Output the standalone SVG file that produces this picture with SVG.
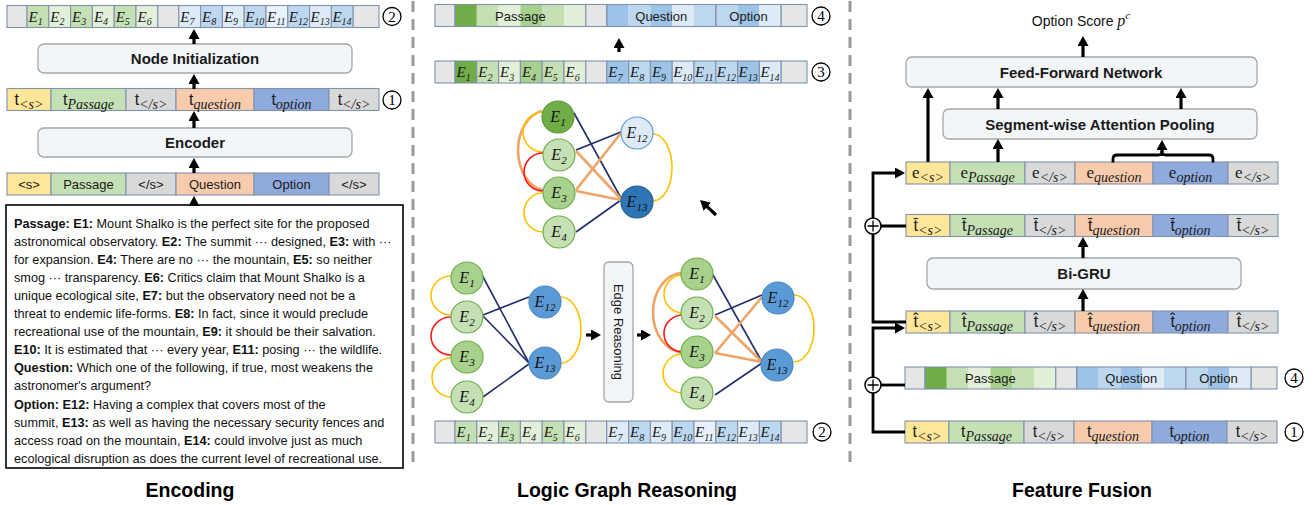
<svg xmlns="http://www.w3.org/2000/svg" width="1316" height="505" viewBox="0 0 1316 505">
<style>
.cell{stroke:#8093ab;stroke-width:1.1}
.box{fill:#f3f6f9;stroke:#a6a6a6;stroke-width:1.3}
.bt{font-family:"Liberation Sans",Arial,sans-serif;font-weight:bold;font-size:15px;fill:#1a1a1a;text-anchor:middle}
.lbl{font-family:"Liberation Sans",Arial,sans-serif;font-size:13px;fill:#1a1a1a;text-anchor:middle}
.el{font-family:"Liberation Serif","Times New Roman",serif;font-style:italic;font-size:15px;fill:#1a1a1a}
.sub{font-size:10px}
.tk{font-family:"Liberation Sans",Arial,sans-serif;font-size:16px;fill:#1a1a1a;text-anchor:middle}
.tke{font-family:"Liberation Serif","Times New Roman",serif;font-size:17px;fill:#1a1a1a;text-anchor:middle}
.ts{font-family:"Liberation Serif","Times New Roman",serif;font-style:italic;font-size:14px}
.nl{font-family:"Liberation Serif","Times New Roman",serif;font-style:italic;font-size:16px;fill:#111;text-anchor:middle}
.nls{font-size:11px}
.para{font-family:"Liberation Sans",Arial,sans-serif;font-size:12.7px;fill:#111}
.b{font-weight:bold}
.title{font-family:"Liberation Sans",Arial,sans-serif;font-weight:bold;font-size:19.5px;fill:#000;text-anchor:middle}
.arr{stroke:#000;stroke-width:3.2;fill:none;marker-end:url(#ah)}
.conn{stroke:#000;stroke-width:2.8;fill:none}
.navy{stroke:#1f2d6b;stroke-width:1.6;fill:none}
.org{stroke:#f0a366;stroke-width:2.6;fill:none}
.yel{stroke:#ffc000;stroke-width:1.6;fill:none}
.red{stroke:#ff1a1a;stroke-width:1.6;fill:none}
.gdk{fill:#70ad47;stroke:#5a9a36;stroke-width:1.2}
.gmd{fill:#a9d18e;stroke:#70ad47;stroke-width:1.2}
.glt{fill:#c5e0b4;stroke:#70ad47;stroke-width:1.2}
.bmd{fill:#5b9bd5;stroke:#4a88c4;stroke-width:1.2}
.num{fill:#fff;stroke:#000;stroke-width:1.3}
.numt{font-family:"Liberation Serif","Times New Roman",serif;font-size:15px;fill:#000;text-anchor:middle}
.sep{stroke:#9a9a9a;stroke-width:3;stroke-dasharray:11 7}
</style>
<defs>
  <marker id="ah" viewBox="0 0 10 11" refX="1" refY="5.5" markerWidth="10" markerHeight="11" markerUnits="userSpaceOnUse" orient="auto">
    <path d="M0,0 L10,5.5 L0,11 z" fill="#000"/>
  </marker>
  <!-- labels E1..E14 inside the entity rows -->
  <g id="elab">
    <text class="el" x="21.5" y="16">E<tspan class="sub" dy="3.5">1</tspan></text>
    <text class="el" x="43.3" y="16">E<tspan class="sub" dy="3.5">2</tspan></text>
    <text class="el" x="65.1" y="16">E<tspan class="sub" dy="3.5">3</tspan></text>
    <text class="el" x="86.9" y="16">E<tspan class="sub" dy="3.5">4</tspan></text>
    <text class="el" x="108.7" y="16">E<tspan class="sub" dy="3.5">5</tspan></text>
    <text class="el" x="130.5" y="16">E<tspan class="sub" dy="3.5">6</tspan></text>
    <text class="el" x="173.3" y="16">E<tspan class="sub" dy="3.5">7</tspan></text>
    <text class="el" x="195.1" y="16">E<tspan class="sub" dy="3.5">8</tspan></text>
    <text class="el" x="216.9" y="16">E<tspan class="sub" dy="3.5">9</tspan></text>
    <text class="el" x="238.2" y="16">E<tspan class="sub" dy="3.5">10</tspan></text>
    <text class="el" x="260" y="16">E<tspan class="sub" dy="3.5">11</tspan></text>
    <text class="el" x="281.8" y="16">E<tspan class="sub" dy="3.5">12</tspan></text>
    <text class="el" x="303.6" y="16">E<tspan class="sub" dy="3.5">13</tspan></text>
    <text class="el" x="325.4" y="16">E<tspan class="sub" dy="3.5">14</tspan></text>
  </g>
  <!-- entity row, initial node features -->
  <g id="rowA">
    <rect class="cell" x="0" y="0" width="20" height="22" fill="#e6e6e6"/>
    <rect class="cell" x="20" y="0" width="21.8" height="22" fill="#c5e0b4"/>
    <rect class="cell" x="41.8" y="0" width="21.8" height="22" fill="#e2f0d9"/>
    <rect class="cell" x="63.6" y="0" width="21.8" height="22" fill="#c5e0b4"/>
    <rect class="cell" x="85.4" y="0" width="21.8" height="22" fill="#e2f0d9"/>
    <rect class="cell" x="107.2" y="0" width="21.8" height="22" fill="#c5e0b4"/>
    <rect class="cell" x="129" y="0" width="21.8" height="22" fill="#e2f0d9"/>
    <rect class="cell" x="150.8" y="0" width="21" height="22" fill="#e6e6e6"/>
    <rect class="cell" x="171.8" y="0" width="21.8" height="22" fill="#deebf7"/>
    <rect class="cell" x="193.6" y="0" width="21.8" height="22" fill="#bdd7ee"/>
    <rect class="cell" x="215.4" y="0" width="21.8" height="22" fill="#deebf7"/>
    <rect class="cell" x="237.2" y="0" width="21.8" height="22" fill="#bdd7ee"/>
    <rect class="cell" x="259" y="0" width="21.8" height="22" fill="#e9f1fa"/>
    <rect class="cell" x="280.8" y="0" width="21.8" height="22" fill="#bdd7ee"/>
    <rect class="cell" x="302.6" y="0" width="21.8" height="22" fill="#deebf7"/>
    <rect class="cell" x="324.4" y="0" width="21.8" height="22" fill="#bdd7ee"/>
    <rect class="cell" x="346.2" y="0" width="25.8" height="22" fill="#e6e6e6"/>
    <use href="#elab"/>
  </g>
  <!-- entity row, after graph reasoning -->
  <g id="rowB">
    <rect class="cell" x="0" y="0" width="20" height="22" fill="#e6e6e6"/>
    <rect class="cell" x="20" y="0" width="21.8" height="22" fill="#70ad47"/>
    <rect class="cell" x="41.8" y="0" width="21.8" height="22" fill="#c5e0b4"/>
    <rect class="cell" x="63.6" y="0" width="21.8" height="22" fill="#e2f0d9"/>
    <rect class="cell" x="85.4" y="0" width="21.8" height="22" fill="#a9d18e"/>
    <rect class="cell" x="107.2" y="0" width="21.8" height="22" fill="#c5e0b4"/>
    <rect class="cell" x="129" y="0" width="21.8" height="22" fill="#e2f0d9"/>
    <rect class="cell" x="150.8" y="0" width="21" height="22" fill="#e6e6e6"/>
    <rect class="cell" x="171.8" y="0" width="21.8" height="22" fill="#9dc3e6"/>
    <rect class="cell" x="193.6" y="0" width="21.8" height="22" fill="#bdd7ee"/>
    <rect class="cell" x="215.4" y="0" width="21.8" height="22" fill="#9dc3e6"/>
    <rect class="cell" x="237.2" y="0" width="21.8" height="22" fill="#deebf7"/>
    <rect class="cell" x="259" y="0" width="21.8" height="22" fill="#bdd7ee"/>
    <rect class="cell" x="280.8" y="0" width="21.8" height="22" fill="#bdd7ee"/>
    <rect class="cell" x="302.6" y="0" width="21.8" height="22" fill="#9dc3e6"/>
    <rect class="cell" x="324.4" y="0" width="21.8" height="22" fill="#deebf7"/>
    <rect class="cell" x="346.2" y="0" width="25.8" height="22" fill="#e6e6e6"/>
    <use href="#elab"/>
  </g>
  <!-- segment row: passage / question / option built from entity features -->
  <g id="seg">
    <rect x="20" y="0" width="21.8" height="22" fill="#70ad47"/>
    <rect x="41.8" y="0" width="21.8" height="22" fill="#c5e0b4"/>
    <rect x="63.6" y="0" width="21.8" height="22" fill="#e2f0d9"/>
    <rect x="85.4" y="0" width="21.8" height="22" fill="#a9d18e"/>
    <rect x="107.2" y="0" width="21.8" height="22" fill="#c5e0b4"/>
    <rect x="129" y="0" width="21.8" height="22" fill="#e2f0d9"/>
    <rect x="171.8" y="0" width="21.8" height="22" fill="#9dc3e6"/>
    <rect x="193.6" y="0" width="21.8" height="22" fill="#bdd7ee"/>
    <rect x="215.4" y="0" width="21.8" height="22" fill="#9dc3e6"/>
    <rect x="237.2" y="0" width="21.8" height="22" fill="#deebf7"/>
    <rect x="259" y="0" width="21.8" height="22" fill="#bdd7ee"/>
    <rect x="280.8" y="0" width="21.8" height="22" fill="#bdd7ee"/>
    <rect x="302.6" y="0" width="21.8" height="22" fill="#9dc3e6"/>
    <rect x="324.4" y="0" width="21.8" height="22" fill="#deebf7"/>
    <rect class="cell" x="0" y="0" width="20" height="22" fill="#e6e6e6"/>
    <rect class="cell" x="20" y="0" width="130.8" height="22" fill="none"/>
    <rect class="cell" x="150.8" y="0" width="21" height="22" fill="#e6e6e6"/>
    <rect class="cell" x="171.8" y="0" width="109" height="22" fill="none"/>
    <rect class="cell" x="280.8" y="0" width="65.4" height="22" fill="none"/>
    <rect class="cell" x="346.2" y="0" width="25.8" height="22" fill="#e6e6e6"/>
    <text class="lbl" x="85.4" y="16">Passage</text>
    <text class="lbl" x="226.3" y="16">Question</text>
    <text class="lbl" x="313.5" y="16">Option</text>
  </g>
  <!-- six-part token row background -->
  <g id="cells6">
    <rect class="cell" x="0" y="0" width="44" height="22" fill="#ffe699"/>
    <rect class="cell" x="44" y="0" width="75" height="22" fill="#c5e0b4"/>
    <rect class="cell" x="119" y="0" width="50" height="22" fill="#d9d9d9"/>
    <rect class="cell" x="169" y="0" width="78" height="22" fill="#f8cbad"/>
    <rect class="cell" x="247" y="0" width="75" height="22" fill="#8faadc"/>
    <rect class="cell" x="322" y="0" width="50" height="22" fill="#d9d9d9"/>
  </g>
  <!-- token feature row t -->
  <g id="trow">
    <use href="#cells6"/>
    <text class="tk" x="22" y="16">t<tspan class="ts" dy="4">&lt;s&gt;</tspan></text>
    <text class="tk" x="81.5" y="16">t<tspan class="ts" dy="4">Passage</tspan></text>
    <text class="tk" x="144" y="16">t<tspan class="ts" dy="4">&lt;/s&gt;</tspan></text>
    <text class="tk" x="208" y="16">t<tspan class="ts" dy="4">question</tspan></text>
    <text class="tk" x="284.5" y="16">t<tspan class="ts" dy="4">option</tspan></text>
    <text class="tk" x="347" y="16">t<tspan class="ts" dy="4">&lt;/s&gt;</tspan></text>
  </g>
</defs>

<rect width="1316" height="505" fill="#fff"/>

<!-- panel separators -->
<line class="sep" x1="413" y1="1" x2="413" y2="462"/>
<line class="sep" x1="850" y1="1" x2="850" y2="462"/>

<!-- ================= Encoding ================= -->
<g id="enc-entity-row" transform="translate(7,5.5)"><use href="#rowA"/></g>
<g id="enc-node-init">
  <rect class="box" x="38" y="44" width="314" height="29" rx="6"/>
  <text class="bt" x="195" y="64">Node Initialization</text>
</g>
<g id="enc-token-row" transform="translate(7,88.5)"><use href="#trow"/></g>
<g id="enc-encoder">
  <rect class="box" x="38" y="128" width="314" height="29" rx="6"/>
  <text class="bt" x="195" y="148">Encoder</text>
</g>
<g id="enc-input-row" transform="translate(7,173)">
  <use href="#cells6"/>
  <text class="lbl" x="22" y="16">&lt;s&gt;</text>
  <text class="lbl" x="81.5" y="16">Passage</text>
  <text class="lbl" x="144" y="16">&lt;/s&gt;</text>
  <text class="lbl" x="208" y="16">Question</text>
  <text class="lbl" x="284.5" y="16">Option</text>
  <text class="lbl" x="347" y="16">&lt;/s&gt;</text>
</g>
<g id="enc-text">
  <rect x="6" y="205" width="397" height="263" fill="#fff" stroke="#000" stroke-width="1.6"/>
  <text class="para" x="14" y="227.5"><tspan class="b">Passage: E1:</tspan> Mount Shalko is the perfect site for the proposed</text>
  <text class="para" x="14" y="245.6">astronomical observatory. <tspan class="b">E2:</tspan> The summit ··· designed, <tspan class="b">E3:</tspan> with ···</text>
  <text class="para" x="14" y="263.7">for expansion. <tspan class="b">E4:</tspan> There are no ··· the mountain, <tspan class="b">E5:</tspan> so neither</text>
  <text class="para" x="14" y="281.8">smog ··· transparency. <tspan class="b">E6:</tspan> Critics claim that Mount Shalko is a</text>
  <text class="para" x="14" y="299.9">unique ecological site, <tspan class="b">E7:</tspan> but the observatory need not be a</text>
  <text class="para" x="14" y="318">threat to endemic life-forms. <tspan class="b">E8:</tspan> In fact, since it would preclude</text>
  <text class="para" x="14" y="336.1">recreational use of the mountain, <tspan class="b">E9:</tspan> it should be their salvation.</text>
  <text class="para" x="14" y="354.2"><tspan class="b">E10:</tspan> It is estimated that ··· every year, <tspan class="b">E11:</tspan> posing ··· the wildlife.</text>
  <text class="para" x="14" y="372.3"><tspan class="b">Question:</tspan> Which one of the following, if true, most weakens the</text>
  <text class="para" x="14" y="390.4">astronomer's argument?</text>
  <text class="para" x="14" y="408.5"><tspan class="b">Option: E12:</tspan> Having a complex that covers most of the</text>
  <text class="para" x="14" y="426.6">summit, <tspan class="b">E13:</tspan> as well as having the necessary security fences and</text>
  <text class="para" x="14" y="444.7">access road on the mountain, <tspan class="b">E14:</tspan> could involve just as much</text>
  <text class="para" x="14" y="462.8">ecological disruption as does the current level of recreational use.</text>
</g>
<g id="enc-num2"><circle class="num" cx="392" cy="16.5" r="9"/><text class="numt" x="392" y="21.5">2</text></g>
<g id="enc-num1"><circle class="num" cx="392" cy="100" r="9"/><text class="numt" x="392" y="105">1</text></g>
<text class="title" x="190" y="497">Encoding</text>

<!-- ================= Logic Graph Reasoning ================= -->
<g id="lgr-seg-row" transform="translate(435,4.5)"><use href="#seg"/></g>
<g id="lgr-entity-row-out" transform="translate(435,61)"><use href="#rowB"/></g>
<g id="lgr-entity-row-in" transform="translate(435,421)"><use href="#rowA"/></g>
<g id="lgr-num4"><circle class="num" cx="821" cy="16" r="9"/><text class="numt" x="821" y="21">4</text></g>
<g id="lgr-num3"><circle class="num" cx="821" cy="72" r="9"/><text class="numt" x="821" y="77">3</text></g>
<g id="lgr-num2"><circle class="num" cx="822" cy="432" r="9"/><text class="numt" x="822" y="437">2</text></g>

<!-- graph after reasoning (top) -->
<g id="graph-top">
  <path class="org" d="M542,111 A29,40 0 0 0 543,190"/>
  <path class="yel" d="M543,112 A20,20 0 0 0 543,152"/>
  <path class="red" d="M543,153 A19,19 0 0 0 543,191"/>
  <path class="yel" d="M543,193 A19,19.5 0 0 0 543,232"/>
  <path class="yel" d="M653,134 A19,33.5 0 0 1 653,201"/>
  <line class="navy" x1="574" y1="113" x2="621" y2="198"/>
  <line class="navy" x1="576" y1="150" x2="621" y2="132"/>
  <line class="navy" x1="576" y1="232" x2="621" y2="200"/>
  <line class="org" x1="576" y1="151" x2="621" y2="199"/>
  <line class="org" x1="576" y1="190" x2="621" y2="133"/>
  <line class="org" x1="576" y1="191" x2="621" y2="200"/>
  <g id="gt-e1"><circle class="gdk" cx="558" cy="117" r="16"/><text class="nl" x="558" y="122">E<tspan class="nls" dy="4">1</tspan></text></g>
  <g id="gt-e2"><circle class="glt" cx="559" cy="155" r="16"/><text class="nl" x="559" y="160">E<tspan class="nls" dy="4">2</tspan></text></g>
  <g id="gt-e3"><circle class="gmd" cx="559" cy="193" r="16"/><text class="nl" x="559" y="198">E<tspan class="nls" dy="4">3</tspan></text></g>
  <g id="gt-e4"><circle class="glt" cx="559" cy="232" r="16"/><text class="nl" x="559" y="237">E<tspan class="nls" dy="4">4</tspan></text></g>
  <g id="gt-e12"><circle cx="637" cy="133" r="16" fill="#deebf7" stroke="#5b9bd5" stroke-width="1.2"/><text class="nl" x="637" y="138">E<tspan class="nls" dy="4">12</tspan></text></g>
  <g id="gt-e13"><circle cx="637" cy="202" r="16" fill="#2e75b6" stroke="#1f5f99" stroke-width="1.2"/><text class="nl" x="637" y="207">E<tspan class="nls" dy="4">13</tspan></text></g>
</g>

<!-- initial graph (bottom left) -->
<g id="graph-in">
  <path class="yel" d="M451,276 A20,19.5 0 0 0 451,315"/>
  <path class="red" d="M451,317 A20,19 0 0 0 451,355"/>
  <path class="yel" d="M451,358 A19,19.5 0 0 0 451,397"/>
  <path class="yel" d="M561,297 A20,33 0 0 1 561,363"/>
  <line class="navy" x1="482" y1="275" x2="529" y2="363"/>
  <line class="navy" x1="483" y1="315" x2="529" y2="297"/>
  <line class="navy" x1="483" y1="316" x2="529" y2="363"/>
  <line class="navy" x1="483" y1="397" x2="529" y2="364"/>
  <g id="gi-e1"><circle class="gmd" cx="467" cy="278" r="16"/><text class="nl" x="467" y="283">E<tspan class="nls" dy="4">1</tspan></text></g>
  <g id="gi-e2"><circle class="glt" cx="467" cy="317" r="16"/><text class="nl" x="467" y="322">E<tspan class="nls" dy="4">2</tspan></text></g>
  <g id="gi-e3"><circle class="gmd" cx="467" cy="357" r="16"/><text class="nl" x="467" y="362">E<tspan class="nls" dy="4">3</tspan></text></g>
  <g id="gi-e4"><circle class="glt" cx="467" cy="397" r="16"/><text class="nl" x="467" y="402">E<tspan class="nls" dy="4">4</tspan></text></g>
  <g id="gi-e12"><circle class="bmd" cx="545" cy="302" r="16"/><text class="nl" x="545" y="307">E<tspan class="nls" dy="4">12</tspan></text></g>
  <g id="gi-e13"><circle class="bmd" cx="545" cy="363" r="16"/><text class="nl" x="545" y="368">E<tspan class="nls" dy="4">13</tspan></text></g>
</g>

<g id="edge-reasoning">
  <rect class="box" x="604" y="262" width="29" height="140" rx="5"/>
  <text class="lbl" x="618.5" y="332" transform="rotate(90 618.5 332)" dominant-baseline="central" fill="#222">Edge Reasoning</text>
</g>

<!-- graph with inferred edges (bottom right) -->
<g id="graph-out">
  <path class="org" d="M683,273 A30,39.5 0 0 0 683,352"/>
  <path class="yel" d="M683,275 A19,19 0 0 0 683,313"/>
  <path class="red" d="M683,315 A19,18.5 0 0 0 683,352"/>
  <path class="yel" d="M683,354 A20,19.5 0 0 0 683,393"/>
  <path class="yel" d="M794,295 A20,33.5 0 0 1 794,362"/>
  <line class="navy" x1="713" y1="275" x2="762" y2="362"/>
  <line class="navy" x1="715" y1="315" x2="762" y2="295"/>
  <line class="navy" x1="715" y1="395" x2="762" y2="363"/>
  <line class="org" x1="715" y1="316" x2="762" y2="362"/>
  <line class="org" x1="715" y1="353" x2="762" y2="297"/>
  <line class="org" x1="715" y1="353" x2="762" y2="362"/>
  <g id="go-e1"><circle class="gmd" cx="697" cy="274" r="16"/><text class="nl" x="697" y="279">E<tspan class="nls" dy="4">1</tspan></text></g>
  <g id="go-e2"><circle class="glt" cx="697" cy="313" r="16"/><text class="nl" x="697" y="318">E<tspan class="nls" dy="4">2</tspan></text></g>
  <g id="go-e3"><circle class="gmd" cx="697" cy="352" r="16"/><text class="nl" x="697" y="357">E<tspan class="nls" dy="4">3</tspan></text></g>
  <g id="go-e4"><circle class="glt" cx="697" cy="393" r="16"/><text class="nl" x="697" y="398">E<tspan class="nls" dy="4">4</tspan></text></g>
  <g id="go-e12"><circle class="bmd" cx="778" cy="298" r="16"/><text class="nl" x="778" y="303">E<tspan class="nls" dy="4">12</tspan></text></g>
  <g id="go-e13"><circle class="bmd" cx="777" cy="365" r="16"/><text class="nl" x="777" y="370">E<tspan class="nls" dy="4">13</tspan></text></g>
</g>
<text class="title" x="627" y="497">Logic Graph Reasoning</text>

<!-- ================= Feature Fusion ================= -->
<g id="ff-score">
  <text x="1081" y="26" font-family="Liberation Sans, Arial, sans-serif" font-size="14" fill="#111" text-anchor="middle">Option Score <tspan font-family="Liberation Serif, serif" font-style="italic" font-size="16">p</tspan><tspan font-family="Liberation Serif, serif" font-style="italic" font-size="11" dy="-7">c</tspan></text>
</g>
<g id="ff-ffn">
  <rect class="box" x="906" y="57" width="351" height="30" rx="6"/>
  <text class="bt" x="1081" y="77.5">Feed-Forward Network</text>
</g>
<g id="ff-pool">
  <rect class="box" x="943" y="109" width="314" height="30" rx="6"/>
  <text class="bt" x="1100" y="129.5">Segment-wise Attention Pooling</text>
</g>
<g id="ff-e-row" transform="translate(906,162)">
  <use href="#cells6"/>
  <text class="tke" x="22" y="16">e<tspan class="ts" dy="4">&lt;s&gt;</tspan></text>
  <text class="tke" x="81.5" y="16">e<tspan class="ts" dy="4">Passage</tspan></text>
  <text class="tke" x="144" y="16">e<tspan class="ts" dy="4">&lt;/s&gt;</tspan></text>
  <text class="tke" x="208" y="16">e<tspan class="ts" dy="4">question</tspan></text>
  <text class="tke" x="284.5" y="16">e<tspan class="ts" dy="4">option</tspan></text>
  <text class="tke" x="347" y="16">e<tspan class="ts" dy="4">&lt;/s&gt;</tspan></text>
</g>
<g id="ff-tbar-row" transform="translate(906,214.5)">
  <use href="#cells6"/>
  <text class="tk" x="22" y="16">t&#x304;<tspan class="ts" dy="4">&lt;s&gt;</tspan></text>
  <text class="tk" x="81.5" y="16">t&#x304;<tspan class="ts" dy="4">Passage</tspan></text>
  <text class="tk" x="144" y="16">t&#x304;<tspan class="ts" dy="4">&lt;/s&gt;</tspan></text>
  <text class="tk" x="208" y="16">t&#x304;<tspan class="ts" dy="4">question</tspan></text>
  <text class="tk" x="284.5" y="16">t&#x304;<tspan class="ts" dy="4">option</tspan></text>
  <text class="tk" x="347" y="16">t&#x304;<tspan class="ts" dy="4">&lt;/s&gt;</tspan></text>
</g>
<g id="ff-bigru">
  <rect class="box" x="927" y="258" width="314" height="31" rx="6"/>
  <text class="bt" x="1084" y="279">Bi-GRU</text>
</g>
<g id="ff-that-row" transform="translate(906,311)">
  <use href="#cells6"/>
  <text class="tk" x="22" y="16">t&#x302;<tspan class="ts" dy="4">&lt;s&gt;</tspan></text>
  <text class="tk" x="81.5" y="16">t&#x302;<tspan class="ts" dy="4">Passage</tspan></text>
  <text class="tk" x="144" y="16">t&#x302;<tspan class="ts" dy="4">&lt;/s&gt;</tspan></text>
  <text class="tk" x="208" y="16">t&#x302;<tspan class="ts" dy="4">question</tspan></text>
  <text class="tk" x="284.5" y="16">t&#x302;<tspan class="ts" dy="4">option</tspan></text>
  <text class="tk" x="347" y="16">t&#x302;<tspan class="ts" dy="4">&lt;/s&gt;</tspan></text>
</g>
<g id="ff-seg-row" transform="translate(905,367)"><use href="#seg"/></g>
<g id="ff-token-row" transform="translate(905,421)"><use href="#trow"/></g>
<g id="ff-num4"><circle class="num" cx="1294" cy="378" r="9"/><text class="numt" x="1294" y="383">4</text></g>
<g id="ff-num1"><circle class="num" cx="1294" cy="432" r="9"/><text class="numt" x="1294" y="437">1</text></g>
<text class="title" x="1082" y="497">Feature Fusion</text>

<!-- ================= connectors ================= -->
<g id="connectors">
  <!-- encoding column -->
  <line class="arr" x1="194" y1="206" x2="194" y2="205"/>
  <line class="arr" x1="194" y1="173" x2="194" y2="167"/>
  <line class="arr" x1="194" y1="128" x2="194" y2="120"/>
  <line class="arr" x1="194" y1="89" x2="194" y2="83"/>
  <line class="arr" x1="194" y1="44" x2="194" y2="38"/>
  <!-- graph reasoning column -->
  <line class="arr" x1="619" y1="52" x2="619" y2="47"/>
  <line class="arr" x1="716" y1="215" x2="706.6" y2="206.1"/>
  <line class="arr" x1="586" y1="335" x2="592" y2="335"/>
  <line class="arr" x1="637" y1="335" x2="642" y2="335"/>
  <!-- fusion column -->
  <line class="arr" x1="1083" y1="57" x2="1083" y2="45"/>
  <line class="arr" x1="998" y1="109" x2="998" y2="97"/>
  <line class="arr" x1="1181" y1="109" x2="1181" y2="97"/>
  <line class="arr" x1="928" y1="162" x2="928" y2="97"/>
  <line class="arr" x1="998" y1="162" x2="998" y2="148"/>
  <path class="conn" d="M1113,162.5 V159 Q1113,155 1117,155 H1158 Q1162,155 1162,151 Q1162,155 1166,155 H1209 Q1213,155 1213,159 V162.5"/>
  <line class="arr" x1="1162" y1="152" x2="1162" y2="149"/>
  <line class="arr" x1="1083" y1="258" x2="1083" y2="246"/>
  <line class="arr" x1="1083" y1="311" x2="1083" y2="298"/>
  <!-- residual fusion paths -->
  <path class="conn" d="M906,322 H873 V173 H896" marker-end="url(#ah)"/>
  <path class="conn" d="M905,432 H873 V328 H896" marker-end="url(#ah)"/>
  <line class="conn" x1="873" y1="226" x2="906" y2="226"/>
  <line class="conn" x1="873" y1="385" x2="905" y2="385"/>
  <g id="plus-upper">
    <circle cx="873" cy="226" r="8" fill="#fff" stroke="#000" stroke-width="1.5"/>
    <path d="M867.5,226 H878.5 M873,220.5 V231.5" stroke="#000" stroke-width="1.3"/>
  </g>
  <g id="plus-lower">
    <circle cx="873" cy="385" r="8" fill="#fff" stroke="#000" stroke-width="1.5"/>
    <path d="M867.5,385 H878.5 M873,379.5 V390.5" stroke="#000" stroke-width="1.3"/>
  </g>
</g>
</svg>
